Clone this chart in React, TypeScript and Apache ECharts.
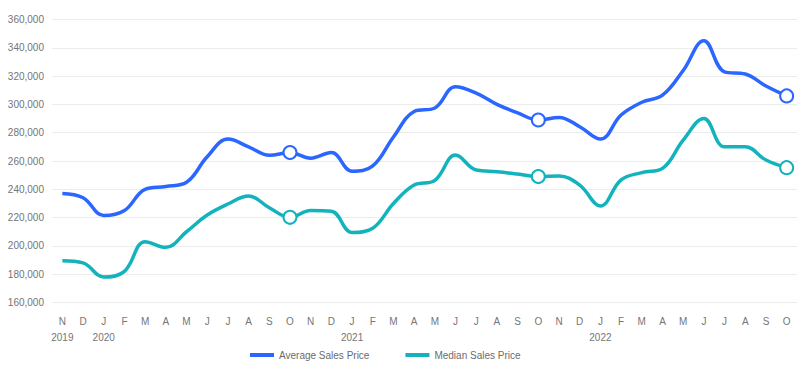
import React, { useEffect, useRef } from "react";
import * as echarts from "echarts";

const months = ["N","D","J","F","M","A","M","J","J","A","S","O","N","D","J","F","M","A","M","J","J","A","S","O","N","D","J","F","M","A","M","J","J","A","S","O"];
const yearLabels: Record<number, string> = { 0: "2019", 2: "2020", 14: "2021", 26: "2022" };
const averagePrice = [237000,234000,221500,225000,240000,242000,245000,263000,275500,270000,264000,266000,262000,266000,252800,256500,277000,295000,297500,312500,308000,300000,294000,289000,290800,284200,275500,292500,301500,306500,324000,345000,323000,321500,313000,306000];
const medianPrice = [189500,188000,178000,182000,203000,199000,210000,221800,229600,235300,227000,220200,225000,224500,209500,212500,230000,243000,246300,264200,253600,252400,250800,249000,249400,243000,228200,246600,251800,254800,274800,290000,270000,270000,260700,255300];
const markedIdx = [11, 23, 35];

const BLUE = "#2a66ff";
const TEAL = "#12b3bd";
const FONT = "'Liberation Sans', Arial, Helvetica, sans-serif";

function buildData(values: number[], color: string) {
  return values.map((v, i) =>
    markedIdx.includes(i)
      ? { value: v, symbol: "circle", symbolSize: 13, itemStyle: { color: "#ffffff", borderColor: color, borderWidth: 2 } }
      : { value: v, symbol: "none" }
  );
}

export default function App() {
  const ref = useRef<HTMLDivElement>(null);
  useEffect(() => {
    document.body.style.margin = "0";
    const chart = echarts.init(ref.current!, null, { renderer: "svg" });
    chart.setOption({
      animation: false,
      backgroundColor: "#ffffff",
      grid: { left: 52, right: 3, top: 19.5, bottom: 67.5 },
      legend: {
        top: 350,
        left: 250,
        padding: 0,
        itemWidth: 24,
        itemHeight: 4,
        itemGap: 36,
        icon: "rect",
        textStyle: { color: "#6b6b6b", fontSize: 10, fontFamily: FONT },
        data: ["Average Sales Price", "Median Sales Price"],
      },
      xAxis: {
        type: "category",
        data: months,
        boundaryGap: true,
        axisLine: { show: false },
        axisTick: { show: false },
        axisLabel: {
          interval: 0,
          color: "#757575",
          fontSize: 10,
          fontFamily: FONT,
          margin: 11,
          lineHeight: 16,
          formatter: (val: string, idx: number) => (yearLabels[idx] ? val + "\n" + yearLabels[idx] : val),
        },
      },
      yAxis: {
        type: "value",
        min: 160000,
        max: 360000,
        interval: 20000,
        axisLine: { show: false },
        axisTick: { show: false },
        splitLine: { lineStyle: { color: "#ececec", width: 1 } },
        axisLabel: {
          color: "#757575",
          fontSize: 10,
          fontFamily: FONT,
          margin: 8,
          formatter: (v: number) => v.toLocaleString("en-US"),
        },
      },
      series: [
        {
          name: "Average Sales Price",
          type: "line",
          smooth: 0.4,
          data: buildData(averagePrice, BLUE),
          itemStyle: { color: BLUE },
          lineStyle: { color: BLUE, width: 3.5 },
          showSymbol: true,
        },
        {
          name: "Median Sales Price",
          type: "line",
          smooth: 0.4,
          data: buildData(medianPrice, TEAL),
          itemStyle: { color: TEAL },
          lineStyle: { color: TEAL, width: 3.5 },
          showSymbol: true,
        },
      ],
    });
    return () => chart.dispose();
  }, []);
  return <div ref={ref} style={{ width: 800, height: 370 }} />;
}
